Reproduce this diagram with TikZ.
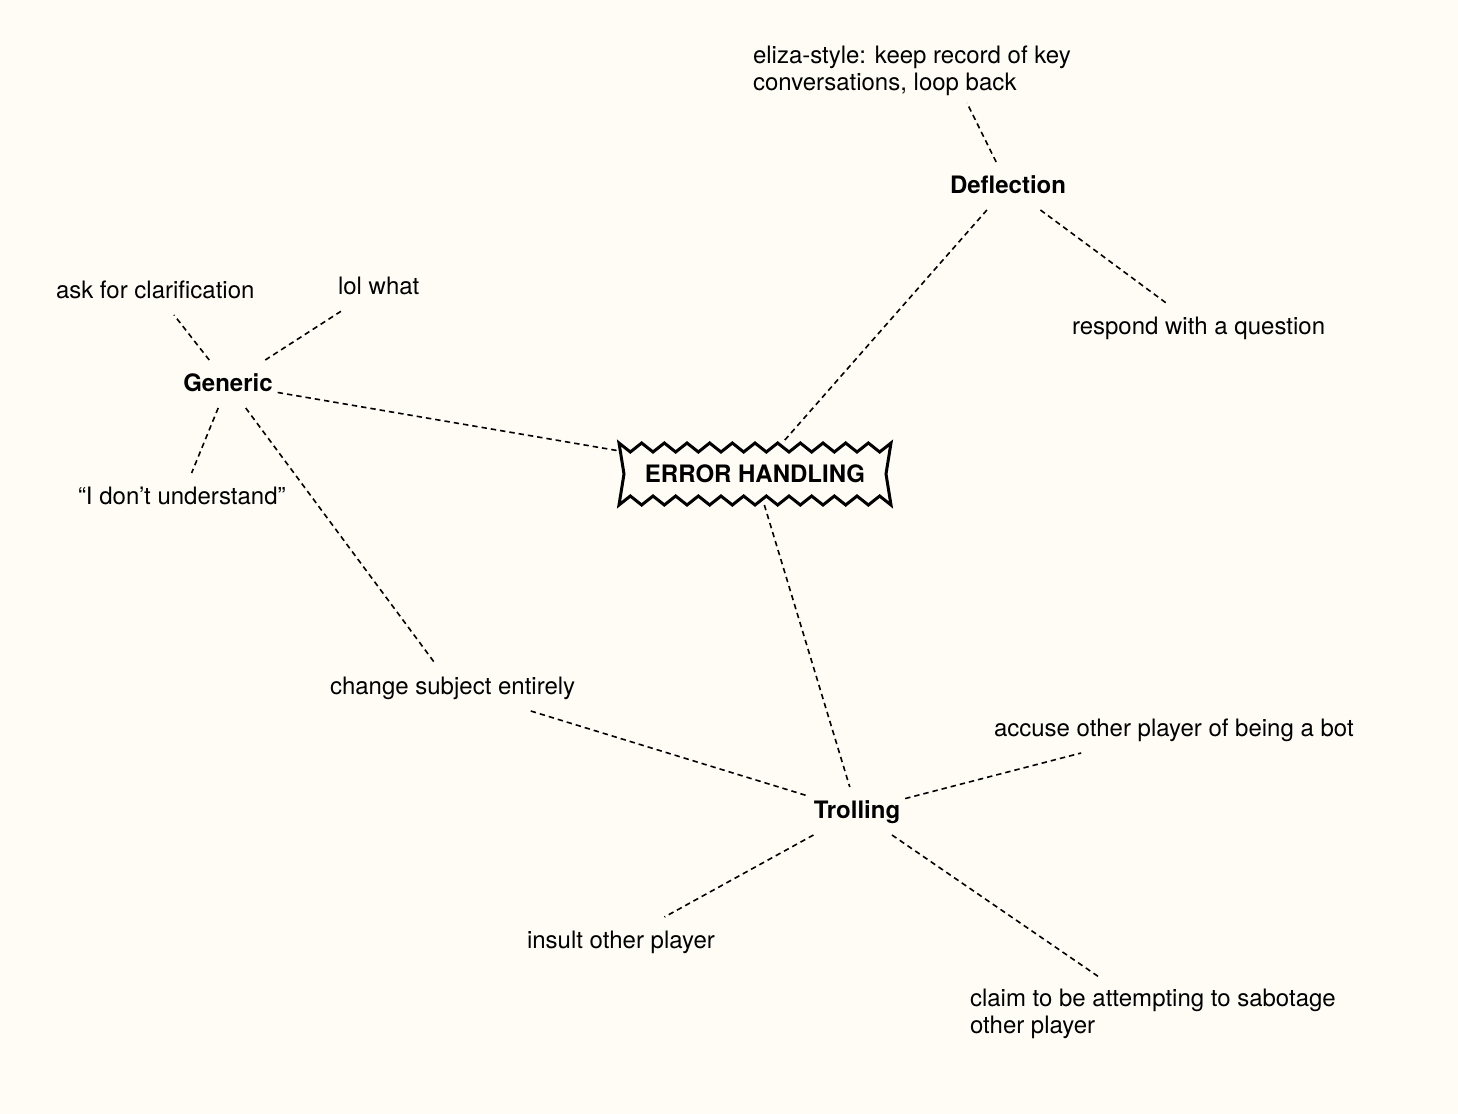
\documentclass[tikz,border=0pt]{standalone}
\usepackage{fontspec}
\setmainfont{TeX Gyre Heros}
\definecolor{bgcream}{RGB}{255,252,245}
\tikzset{
  lbl/.style={font=\fontsize{12}{14}\selectfont, inner xsep=2.5pt, inner ysep=6pt, outer sep=0pt, text height=9.5pt, text depth=2.5pt},
  multi/.style={font=\fontsize{12}{13.6}\selectfont, align=left, inner xsep=2.5pt, inner ysep=6pt, outer sep=0pt},
  hub/.style={lbl, font=\fontsize{12}{14}\selectfont\bfseries},
  conn/.style={dashed, dash pattern=on 2.7pt off 2pt, line width=0.8pt},
  zig/.style={line width=1.5pt, line join=miter}
}
\begin{document}
\begin{tikzpicture}[x=0.5pt, y=-0.5pt]
\fill[bgcream] (0,0) rectangle (1458,1114);
\useasboundingbox (0,0) rectangle (1458,1114);

% nodes
\node[multi, anchor=west] (eliza) at (748,71) {eliza-style: keep record of key\\conversations, loop back};
\coordinate (elizaend) at (967,103);
\node[hub] (defl) at (1008,186) {Deflection};
\node[lbl, anchor=west] (resp) at (1067,327) {respond with a question};
\node[lbl, anchor=west] (ask) at (51,291) {ask for clarification};
\node[lbl, anchor=west] (lol) at (333,287) {lol what};
\node[hub] (gen) at (228,384) {Generic};
\node[lbl, anchor=west] (idont) at (73,497) {“I don’t understand”};
\node[lbl, anchor=west] (change) at (325,687) {change subject entirely};
\node[minimum width=136pt, minimum height=31pt, inner sep=0pt, outer sep=0pt,
      font=\fontsize{12}{14}\selectfont\bfseries] (err) at (755,474) {ERROR HANDLING};
\node[lbl, anchor=west] (accuse) at (989,729) {accuse other player of being a bot};
\node[hub] (troll) at (857,811) {Trolling};
\node[lbl, anchor=west] (insult) at (522,941) {insult other player};
\node[multi, anchor=west] (claim) at (965,1014) {claim to be attempting to sabotage\\other player};

% zigzag frame of the central node
\draw[zig] (619,443)
  \foreach \i in {1,...,12} { -- ({619+(\i-0.5)*22.667},452) -- ({619+\i*22.667},443) }
  -- (886,474) -- (891,505)
  \foreach \i in {11,10,...,0} { -- ({619+(\i+0.5)*22.667},496) -- ({619+\i*22.667},505) }
  -- (624,474) -- cycle;

% connectors
\draw[conn] (defl) -- (elizaend);
\draw[conn] (defl) -- (resp);
\draw[conn] (defl) -- (err);
\draw[conn] (gen) -- (ask);
\draw[conn] (gen) -- (lol);
\draw[conn] (gen) -- (err);
\draw[conn] (gen) -- (idont);
\draw[conn] (gen) -- (change);
\draw[conn] (change) -- (troll);
\draw[conn] (err) -- (troll);
\draw[conn] (troll) -- (accuse);
\draw[conn] (troll) -- (insult);
\draw[conn] (troll) -- (claim);
\end{tikzpicture}
\end{document}
